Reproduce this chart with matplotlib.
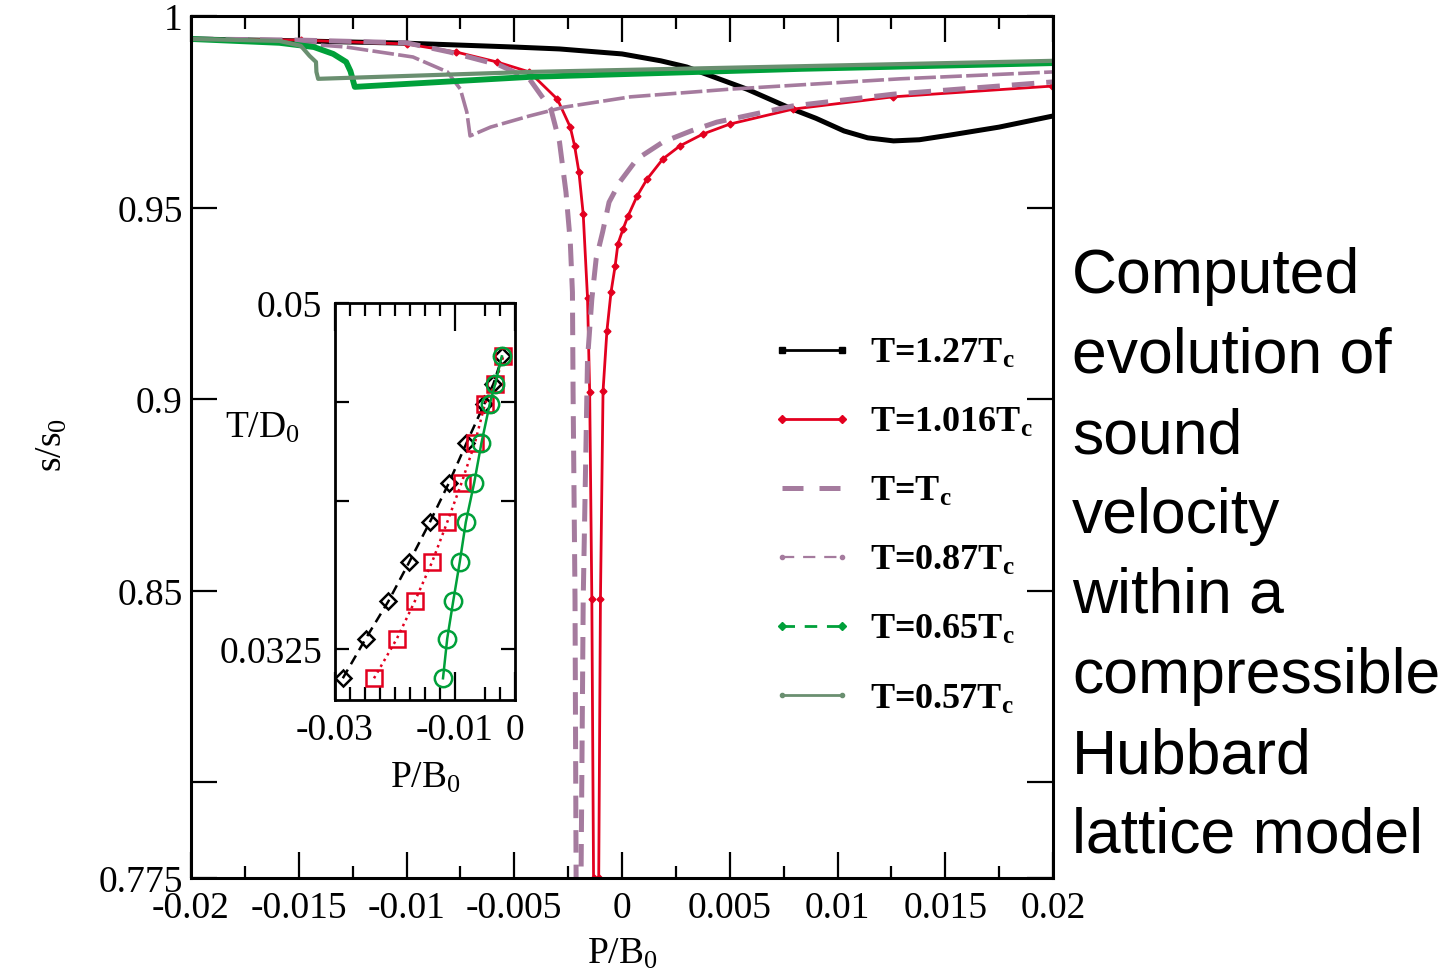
import matplotlib
matplotlib.use("Agg")
import matplotlib.pyplot as plt
from matplotlib.lines import Line2D

plt.rcParams["font.family"] = ["Liberation Serif", "DejaVu Serif"]
plt.rcParams["mathtext.fontset"] = "custom"
plt.rcParams["mathtext.rm"] = "Liberation Serif"
plt.rcParams["mathtext.it"] = "Liberation Serif:italic"
plt.rcParams["mathtext.bf"] = "Liberation Serif:bold"

# --- main panel: s/s0 versus P/B0 ---
p_127 = [-0.0200, -0.0150, -0.0100, -0.0050, -0.0029, 0.0, 0.0018, 0.0030, 0.0058,
         0.0079, 0.0090, 0.0103, 0.0114, 0.0126, 0.0138, 0.0152, 0.0175, 0.0200]
s_127 = [0.9940, 0.9935, 0.9929, 0.9919, 0.9914, 0.9901, 0.9883, 0.9867, 0.9809,
         0.9757, 0.9733, 0.9700, 0.9682, 0.9674, 0.9677, 0.9689, 0.9710, 0.9739]

p_1016 = [-0.0200, -0.0149, -0.0100, -0.0077, -0.0058, -0.0043, -0.0030, -0.0024,
          -0.0022, -0.0020, -0.0018, -0.0016, -0.0015, -0.0014, -0.00132, -0.0012,
          -0.00108, -0.0010, -0.00088, -0.00070, -0.00051, -0.00032, -0.00019, 0.00005,
          0.00028, 0.00070, 0.00116, 0.00190, 0.00269, 0.00376, 0.00501, 0.00794,
          0.01258, 0.01995]
s_1016 = [0.9940, 0.9937, 0.9927, 0.9906, 0.9880, 0.9854, 0.9783, 0.9710,
          0.9661, 0.9593, 0.9483, 0.9264, 0.9018, 0.8478, 0.7750, 0.7000,
          0.7750, 0.8478, 0.9021, 0.9178, 0.9279, 0.9347, 0.9405, 0.9444,
          0.9478, 0.9530, 0.9574, 0.9627, 0.9661, 0.9692, 0.9718, 0.9757,
          0.9789, 0.9817]

p_100 = [-0.0200, -0.0149, -0.0100, -0.0080, -0.0057, -0.0043, -0.0033, -0.0029,
         -0.0026, -0.0024, -0.0023, -0.00227, -0.00218, -0.00213, -0.0020, -0.0019,
         -0.0018, -0.0016, -0.0014, -0.0012, -0.0009, -0.0006, -0.0001, 0.0007,
         0.0019, 0.0032, 0.0044, 0.0079, 0.0126, 0.0200]
s_100 = [0.9940, 0.9937, 0.9930, 0.9906, 0.9872, 0.9836, 0.9757, 0.9671,
         0.9540, 0.9410, 0.9279, 0.9018, 0.8478, 0.7750, 0.7000, 0.7750,
         0.8478, 0.9104, 0.9261, 0.9366, 0.9436, 0.9514, 0.9567, 0.9627,
         0.9671, 0.9700, 0.9723, 0.9765, 0.9796, 0.9828]

p_087 = [-0.0200, -0.0159, -0.0128, -0.0097, -0.0081, -0.0075, -0.0072, -0.00705,
         -0.0061, -0.0043, -0.0027, 0.0004, 0.0050, 0.0129, 0.0200]
s_087 = [0.9940, 0.9932, 0.9919, 0.9893, 0.9854, 0.9809, 0.9749, 0.9687,
         0.9710, 0.9739, 0.9762, 0.9789, 0.9809, 0.9836, 0.9854]

p_065 = [-0.0200, -0.0159, -0.0143, -0.0134, -0.0128, -0.0126, -0.0124, -0.0043,
         0.0083, 0.0200]
s_065 = [0.9940, 0.9930, 0.9919, 0.9901, 0.9880, 0.9856, 0.9815, 0.9841,
         0.9862, 0.9877]

p_057 = [-0.0200, -0.0159, -0.0149, -0.0145, -0.0142, -0.01418, -0.0141, -0.0043,
         0.0083, 0.0200]
s_057 = [0.9940, 0.9935, 0.9922, 0.9896, 0.9880, 0.9854, 0.9836, 0.9854,
         0.9869, 0.9883]

# --- inset: T/D0 versus P/B0 ---
t_inset = [0.0310, 0.0330, 0.0349, 0.0369, 0.0389, 0.0409, 0.0429, 0.0449, 0.0459, 0.0473]
p_diamond = [-0.0287, -0.0249, -0.0211, -0.0176, -0.0142, -0.0110, -0.0081, -0.0051,
             -0.0036, -0.0021]
p_square = [-0.0235, -0.0197, -0.0167, -0.0138, -0.0113, -0.0089, -0.0067, -0.0050,
            -0.0033, -0.00195]
p_circle = [-0.0120, -0.0113, -0.0103, -0.0092, -0.0082, -0.0068, -0.0056, -0.0042,
            -0.0033, -0.0022]

legend_labels = [r"T=1.27T$_\mathbf{c}$", r"T=1.016T$_\mathbf{c}$", r"T=T$_\mathbf{c}$",
                 r"T=0.87T$_\mathbf{c}$", r"T=0.65T$_\mathbf{c}$", r"T=0.57T$_\mathbf{c}$"]

x_ticks = [-0.02, -0.015, -0.01, -0.005, 0.0, 0.005, 0.01, 0.015, 0.02]
x_tick_labels = ["-0.02", "-0.015", "-0.01", "-0.005", "0", "0.005", "0.01", "0.015", "0.02"]
y_ticks = [0.775, 0.8, 0.85, 0.9, 0.95, 1.0]
y_tick_labels = ["0.775", "", "0.85", "0.9", "0.95", "1"]

side_text = ["Computed", "evolution of", "sound", "velocity", "within a",
             "compressible", "Hubbard", "lattice model"]

BLACK = "#000000"
RED = "#e3001f"
MAUVE = "#a57b9e"
GREEN = "#00a03a"
GREY_GREEN = "#6a8f70"

fig = plt.figure(figsize=(14.45, 9.70), dpi=100)
ax = fig.add_axes([191 / 1445, 1 - 879 / 970, 862 / 1445, 862 / 970])

ax.plot(p_127, s_127, color=BLACK, lw=3.6)
ax.plot(p_1016, s_1016, color=RED, lw=2.0, marker="D", ms=3.5)
ax.plot(p_100, s_100, color=MAUVE, lw=3.6, dashes=(4.5, 2.4))
ax.plot(p_087, s_087, color=MAUVE, lw=2.6, dashes=(6, 1.2))
ax.plot(p_065, s_065, color=GREEN, lw=4.2)
ax.plot(p_057, s_057, color=GREY_GREEN, lw=3.0)

ax.set_xlim(-0.02, 0.02)
ax.set_ylim(0.775, 1.0)
ax.set_xticks(x_ticks, x_tick_labels)
ax.set_xticks([-0.0175 + 0.005 * i for i in range(8)], minor=True)
ax.set_yticks(y_ticks, y_tick_labels)
ax.tick_params(which="both", direction="in", top=True, right=True, width=1.6,
               labelsize=27)
ax.tick_params(which="major", length=19)
ax.tick_params(which="minor", length=9)
ax.tick_params(axis="x", pad=9)
ax.tick_params(axis="y", pad=6)
for sp in ax.spines.values():
    sp.set_linewidth(2.2)

handles = [
    Line2D([], [], color=BLACK, lw=2, marker="s", ms=5),
    Line2D([], [], color=RED, lw=2, marker="D", ms=4),
    Line2D([], [], color=MAUVE, lw=3.6, dashes=(4.2, 3.2)),
    Line2D([], [], color=MAUVE, lw=1.6, dashes=(5.5, 4), marker="o", ms=3),
    Line2D([], [], color=GREEN, lw=2, dashes=(4.5, 3.5), marker="D", ms=4),
    Line2D([], [], color=GREY_GREEN, lw=2, marker="o", ms=3),
]
ax.legend(handles, legend_labels, loc="upper left", numpoints=2,
          bbox_to_anchor=(771 / 1445, 1 - 338 / 970), bbox_transform=fig.transFigure,
          frameon=False, borderpad=0, borderaxespad=0, handlelength=2.26,
          handletextpad=0.48, labelspacing=0.99,
          prop={"family": "Liberation Serif", "weight": "bold", "size": 26})

fig.text(52 / 1445, 1 - 445 / 970, r"s/s$_0$", rotation=90, fontsize=27,
         ha="center", va="center")
fig.text(622 / 1445, 1 - 964 / 970, r"P/B$_0$", fontsize=27, ha="center",
         va="baseline")

# inset
axin = fig.add_axes([335 / 1445, 1 - 701 / 970, 180 / 1445, 397 / 970])
axin.plot(p_diamond, t_inset, color=BLACK, lw=1.8, dashes=(4, 2.5), marker="D",
          ms=8, mfc="none", mew=1.8)
axin.plot(p_square, t_inset, color=RED, lw=1.8, ls=":", marker="s", ms=11,
          mfc="none", mew=1.8)
axin.plot(p_circle, t_inset, color=GREEN, lw=1.8, marker="o", ms=12.5,
          mfc="none", mew=1.8)
axin.set_xlim(-0.03, 0.0)
axin.set_ylim(0.0299, 0.05)
axin.set_xticks([-0.03, -0.01, 0.0], ["-0.03", "-0.01", "0"])
axin.set_xticks([-0.0275, -0.025, -0.0225, -0.02, -0.0175, -0.015, -0.0125,
                 -0.005, -0.0025], minor=True)
axin.set_yticks([0.0325, 0.04, 0.045, 0.05], ["0.0325", "", "", "0.05"])
axin.tick_params(which="both", direction="in", top=True, right=True, width=1.6,
                 labelsize=27)
axin.tick_params(axis="x", which="major", length=20, pad=9)
axin.tick_params(axis="x", which="minor", length=9.5)
axin.tick_params(axis="y", which="major", length=10, pad=9)
for sp in axin.spines.values():
    sp.set_linewidth(2.0)
fig.text(225 / 1445, 1 - 438 / 970, r"T/D$_0$", fontsize=27, ha="left",
         va="baseline")
fig.text(425 / 1445, 1 - 788 / 970, r"P/B$_0$", fontsize=27, ha="center",
         va="baseline")

# description on the right
for i, line in enumerate(side_text):
    fig.text(1072 / 1445, 1 - (293 + 80 * i) / 970, line, fontsize=45,
             family="Liberation Sans", ha="left", va="baseline")

fig.savefig("out.png", dpi=100)
